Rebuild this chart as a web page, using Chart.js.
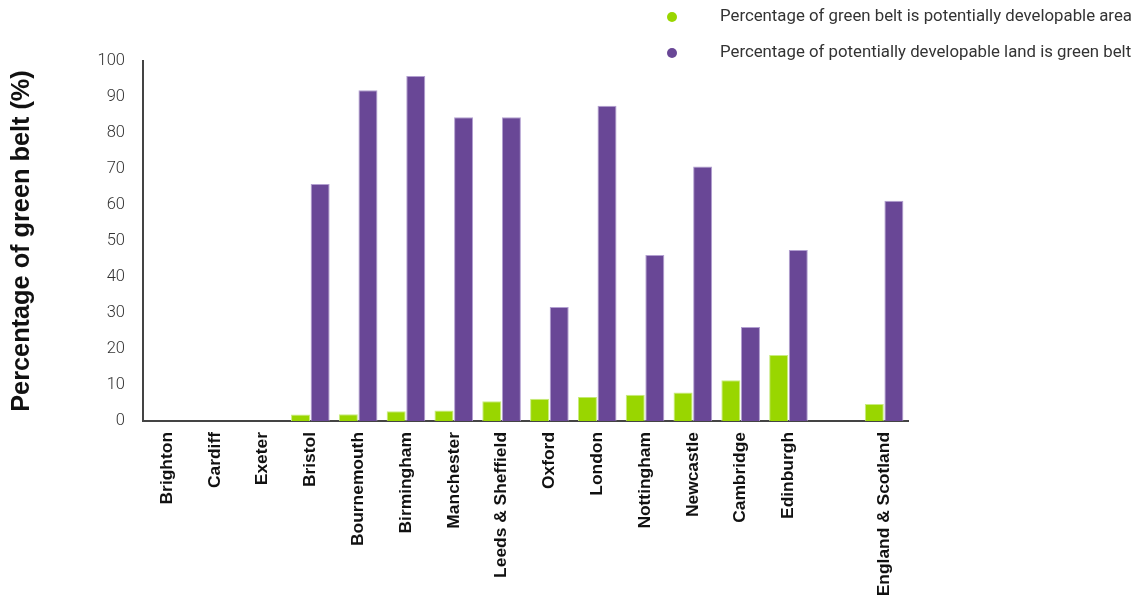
<!DOCTYPE html>
<html>
<head>
<meta charset="utf-8">
<script src="https://cdn.jsdelivr.net/npm/chart.js@4"></script>
<style>
    html, body { margin: 0; padding: 0; background: #fff; }
    #wrap { width: 1141px; height: 600px; position: relative; }
</style>
</head>
<body>
<div id="wrap"><canvas id="beltChart"></canvas></div>
<script>
const cities = ['Brighton', 'Cardiff', 'Exeter', 'Bristol', 'Bournemouth', 'Birmingham', 'Manchester',
    'Leeds & Sheffield', 'Oxford', 'London', 'Nottingham', 'Newcastle', 'Cambridge', 'Edinburgh', '', 'England & Scotland'];

// share of the green belt that is potentially developable
const beltDevelopable = [null, null, null, 1.8, 1.9, 2.7, 2.9, 5.5, 6.2, 6.7, 7.3, 7.9, 11.3, 18.3, null, 4.7];
// share of the developable land that sits in the green belt
const developableInBelt = [null, null, null, 65.8, 91.9, 95.8, 84.4, 84.4, 31.7, 87.6, 46.1, 70.7, 26.1, 47.5, null, 61.2];

const yTicks = [0, 10, 20, 30, 40, 50, 60, 70, 80, 90, 100];

const GREEN = '#99d600';
const PURPLE = '#694796';

// legend drawn by hand so the dot sits well away from the text
const sideLegend = {
    id: 'sideLegend',
    afterDraw(chart) {
        const ctx = chart.ctx;
        ctx.save();
        ctx.font = '16.8px Roboto';
        ctx.textBaseline = 'middle';
        chart.data.datasets.forEach((ds, i) => {
            const y = 17 + i * 36;
            ctx.fillStyle = ds.backgroundColor;
            ctx.beginPath();
            ctx.arc(672, y, 5, 0, Math.PI * 2);
            ctx.fill();
            ctx.fillStyle = '#333';
            ctx.fillText(ds.label, 720, y);
        });
        ctx.restore();
    }
};

new Chart(document.getElementById('beltChart'), {
    type: 'bar',
    data: {
        labels: cities,
        datasets: [{
            label: 'Percentage of green belt is potentially developable area',
            data: beltDevelopable,
            backgroundColor: GREEN,
            borderColor: '#c9ec80',
            borderWidth: 1
        }, {
            label: 'Percentage of potentially developable land is green belt',
            data: developableInBelt,
            backgroundColor: PURPLE,
            borderColor: '#b29fd0',
            borderWidth: 1
        }]
    },
    options: {
        responsive: true,
        maintainAspectRatio: false,
        animation: false,
        layout: { padding: { top: 61, right: 233, left: 0, bottom: 0 } },
        datasets: { bar: { categoryPercentage: 0.82, barPercentage: 0.97 } },
        scales: {
            x: {
                afterFit: s => { s.height = 179; },
                grid: { display: false, drawTicks: false },
                border: { display: true, color: '#444', width: 2 },
                ticks: {
                    color: '#111',
                    font: { family: 'Liberation Sans', size: 17.4, weight: 'bold' },
                    minRotation: 90,
                    maxRotation: 90,
                    autoSkip: false,
                    padding: 11
                }
            },
            y: {
                min: 0,
                max: 100,
                afterFit: s => { s.width = 143; },
                afterBuildTicks: axis => { axis.ticks = yTicks.map(v => ({ value: v })); },
                grid: { display: false, drawTicks: false },
                border: { display: true, color: '#444', width: 2 },
                ticks: {
                    color: '#333',
                    font: { family: 'Roboto', size: 16.5, weight: '300' },
                    padding: 18
                },
                title: {
                    display: true,
                    text: 'Percentage of green belt (%)',
                    color: '#111',
                    font: { family: 'Liberation Sans', size: 25.3, weight: 'bold' },
                    padding: { top: 7, bottom: 0 }
                }
            }
        },
        plugins: {
            legend: { display: false },
            tooltip: { enabled: false }
        }
    },
    plugins: [sideLegend]
});
</script>
</body>
</html>
